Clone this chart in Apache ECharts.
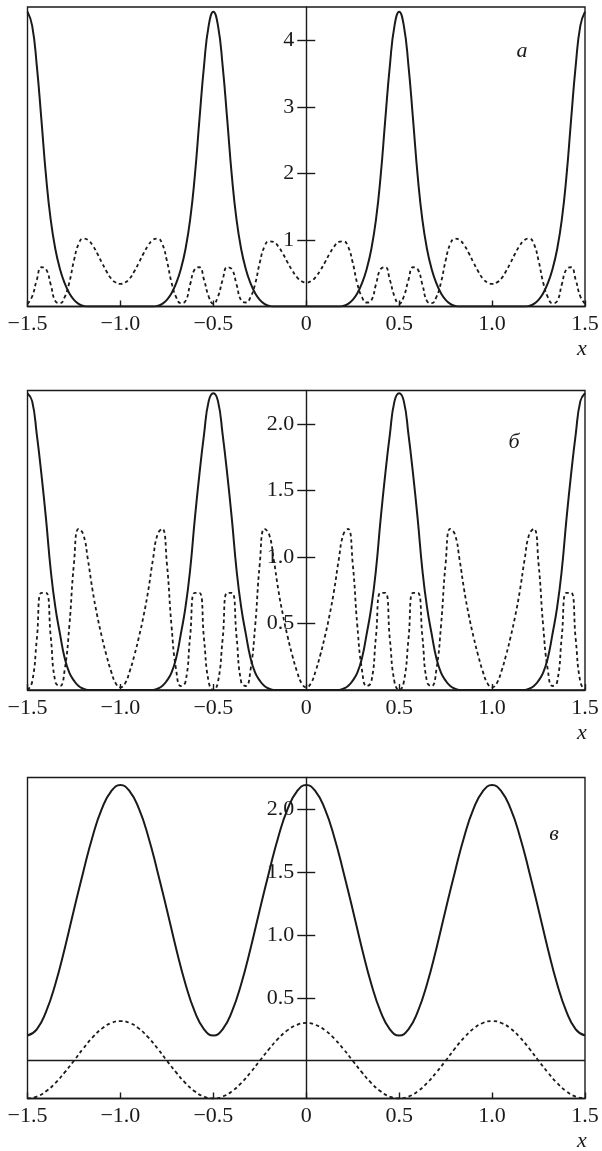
<!DOCTYPE html>
<html><head><meta charset="utf-8">
<script src="https://cdn.jsdelivr.net/npm/echarts@6/dist/echarts.min.js"></script>
<style>html,body{margin:0;padding:0;background:#fff}#c{width:602px;height:1151px}</style>
</head><body><div id="c"></div>
<script>
// sample positions (x)
const xFine = [-1.5,-1.475,-1.45,-1.425,-1.4,-1.375,-1.35,-1.325,-1.3,-1.275,-1.25,-1.225,-1.2,-1.175,-1.15,-1.125,-1.1,-1.075,-1.05,-1.025,
-1,-0.975,-0.95,-0.925,-0.9,-0.875,-0.85,-0.825,-0.8,-0.775,-0.75,-0.725,-0.7,-0.675,-0.65,-0.625,-0.6,-0.575,-0.55,-0.525,
-0.5,-0.475,-0.45,-0.425,-0.4,-0.375,-0.35,-0.325,-0.3,-0.275,-0.25,-0.225,-0.2,-0.175,-0.15,-0.125,-0.1,-0.075,-0.05,-0.025,
0,0.025,0.05,0.075,0.1,0.125,0.15,0.175,0.2,0.225,0.25,0.275,0.3,0.325,0.35,0.375,0.4,0.425,0.45,0.475,
0.5,0.525,0.55,0.575,0.6,0.625,0.65,0.675,0.7,0.725,0.75,0.775,0.8,0.825,0.85,0.875,0.9,0.925,0.95,0.975,
1,1.025,1.05,1.075,1.1,1.125,1.15,1.175,1.2,1.225,1.25,1.275,1.3,1.325,1.35,1.375,1.4,1.425,1.45,1.475,1.5];
const xCoarse = [-1.5,-1.45,-1.4,-1.35,-1.3,-1.25,-1.2,-1.15,-1.1,-1.05,-1,-0.95,-0.9,-0.85,-0.8,-0.75,-0.7,-0.65,-0.6,-0.55,
-0.5,-0.45,-0.4,-0.35,-0.3,-0.25,-0.2,-0.15,-0.1,-0.05,0,0.05,0.1,0.15,0.2,0.25,0.3,0.35,0.4,0.45,
0.5,0.55,0.6,0.65,0.7,0.75,0.8,0.85,0.9,0.95,1,1.05,1.1,1.15,1.2,1.25,1.3,1.35,1.4,1.45,1.5];

// panel a
const solidA = [4.43,4.22,3.62,2.80,1.95,1.30,0.86,0.56,0.35,0.20,0.10,0.04,0.01,0,0,0,0,0,0,0,0,
0,0,0,0,0,0,0,0.01,0.04,0.10,0.20,0.35,0.56,0.86,1.30,1.95,2.80,3.62,4.22,4.43,
4.22,3.62,2.80,1.95,1.30,0.86,0.56,0.35,0.20,0.10,0.04,0.01,0,0,0,0,0,0,0,0,
0,0,0,0,0,0,0,0.01,0.04,0.10,0.20,0.35,0.56,0.86,1.30,1.95,2.80,3.62,4.22,4.43,
4.22,3.62,2.80,1.95,1.30,0.86,0.56,0.35,0.20,0.10,0.04,0.01,0,0,0,0,0,0,0,0,
0,0,0,0,0,0,0,0.01,0.04,0.10,0.20,0.35,0.56,0.86,1.30,1.95,2.80,3.62,4.22,4.43];
const dashedA = [0.04,0.15,0.40,0.59,0.56,0.33,0.08,0.05,0.14,0.36,0.69,0.94,1.02,1.00,0.92,0.80,0.66,0.53,0.42,0.36,0.34,
0.36,0.42,0.53,0.66,0.80,0.92,1.00,1.02,0.94,0.69,0.36,0.14,0.05,0.08,0.33,0.56,0.59,0.40,0.15,0.04,
0.15,0.40,0.59,0.56,0.33,0.09,0.06,0.14,0.34,0.66,0.90,0.98,0.97,0.90,0.79,0.66,0.54,0.44,0.38,0.36,
0.38,0.44,0.54,0.66,0.79,0.90,0.97,0.98,0.90,0.66,0.34,0.14,0.06,0.09,0.33,0.56,0.59,0.40,0.15,0.04,
0.15,0.40,0.59,0.56,0.33,0.08,0.05,0.14,0.36,0.69,0.94,1.02,1.00,0.92,0.80,0.66,0.53,0.42,0.36,0.34,
0.36,0.42,0.53,0.66,0.80,0.92,1.00,1.02,0.94,0.69,0.36,0.14,0.05,0.08,0.33,0.56,0.59,0.40,0.15,0.04];

// panel б
const solidB = [2.23,2.17,1.92,1.62,1.28,0.90,0.62,0.42,0.24,0.13,0.07,0.03,0.01,0,0,0,0,0,0,0,0,
0,0,0,0,0,0,0,0.01,0.03,0.07,0.13,0.24,0.42,0.62,0.90,1.28,1.62,1.92,2.17,2.23,
2.17,1.92,1.62,1.28,0.90,0.62,0.42,0.24,0.13,0.07,0.03,0.01,0,0,0,0,0,0,0,0,
0,0,0,0,0,0,0,0.01,0.03,0.07,0.13,0.24,0.42,0.62,0.90,1.28,1.62,1.92,2.17,2.23,
2.17,1.92,1.62,1.28,0.90,0.62,0.42,0.24,0.13,0.07,0.03,0.01,0,0,0,0,0,0,0,0,
0,0,0,0,0,0,0,0.01,0.03,0.07,0.13,0.24,0.42,0.62,0.90,1.28,1.62,1.92,2.17,2.23];
const dashedB = [0.00,0.06,0.38,0.73,0.73,0.40,0.06,0.03,0.15,0.48,0.95,1.21,1.17,0.98,0.75,0.56,0.40,0.26,0.14,0.05,0.02,
0.05,0.14,0.26,0.40,0.56,0.75,0.98,1.17,1.21,0.95,0.48,0.15,0.03,0.06,0.40,0.73,0.73,0.38,0.06,0.00,
0.06,0.38,0.73,0.73,0.40,0.06,0.03,0.15,0.48,0.95,1.21,1.17,0.98,0.75,0.56,0.40,0.26,0.14,0.05,0.02,
0.05,0.14,0.26,0.40,0.56,0.75,0.98,1.17,1.21,0.95,0.48,0.15,0.03,0.06,0.40,0.73,0.73,0.38,0.06,0.00,
0.06,0.38,0.73,0.73,0.40,0.06,0.03,0.15,0.48,0.95,1.21,1.17,0.98,0.75,0.56,0.40,0.26,0.14,0.05,0.02,
0.05,0.14,0.26,0.40,0.56,0.75,0.98,1.17,1.21,0.95,0.48,0.15,0.03,0.06,0.40,0.73,0.73,0.38,0.06,0.00];

// panel в
const solidC = [0.20,0.25,0.39,0.61,0.89,1.20,1.50,1.78,2.00,2.14,2.19,
2.14,2.00,1.78,1.50,1.20,0.89,0.61,0.39,0.25,0.20,
0.25,0.39,0.61,0.89,1.20,1.50,1.78,2.00,2.14,2.19,
2.14,2.00,1.78,1.50,1.20,0.89,0.61,0.39,0.25,0.20,
0.25,0.39,0.61,0.89,1.20,1.50,1.78,2.00,2.14,2.19,
2.14,2.00,1.78,1.50,1.20,0.89,0.61,0.39,0.25,0.20];
const dashedC = [-0.30,-0.285,-0.243,-0.177,-0.093,0.00,0.097,0.185,0.255,0.30,0.315,
0.30,0.255,0.185,0.097,0.00,-0.093,-0.177,-0.243,-0.285,-0.30,
-0.285,-0.243,-0.177,-0.093,0.00,0.093,0.177,0.243,0.285,0.30,
0.285,0.243,0.177,0.093,0.00,-0.093,-0.177,-0.243,-0.285,-0.30,
-0.285,-0.243,-0.177,-0.093,0.00,0.097,0.185,0.255,0.30,0.315,
0.30,0.255,0.185,0.097,0.00,-0.093,-0.177,-0.243,-0.285,-0.30];

// tick labels
const xTickValues = [-1.5,-1,-0.5,0,0.5,1,1.5];
const yTicksA = [1,2,3,4];
const yTicksB = [0.5,1,1.5,2];
const yTicksC = [0.5,1,1.5,2];
const panelLetters = ['a','б','в'];
const axisName = 'x';

const FONT = 'Liberation Serif';
const INK = '#1a1a1a';
const GRID_LEFT = 27.5, GRID_RIGHT = 17, W = 602;
const plotW = W - GRID_LEFT - GRID_RIGHT;
const zeroPx = GRID_LEFT + plotW * (0 - (-1.5)) / 3;   // where x = 0 sits
const offLeft = -(zeroPx - GRID_LEFT);
const offRight = -(W - GRID_RIGHT - zeroPx);

const panels = [
  {top:7, height:299.5, ymin:0, ymax:4.5, yTicks:yTicksA, digits:0, xs:xFine, solid:solidA, dashed:dashedA, letterPos:[522,51], zeroLine:false},
  {top:390.5, height:299.5, ymin:0, ymax:2.25, yTicks:yTicksB, digits:1, xs:xFine, solid:solidB, dashed:dashedB, letterPos:[514,442], zeroLine:false},
  {top:777.5, height:321, ymin:-0.3, ymax:2.25, yTicks:yTicksC, digits:1, xs:xCoarse, solid:solidC, dashed:dashedC, letterPos:[554,834], zeroLine:true}
];

function fmtX(v){ if (Math.abs(v) < 1e-9) return '0'; return (v<0?'\u2212':'') + Math.abs(v).toFixed(1); }

const grids=[], xAxes=[], yAxes=[], series=[], graphics=[];
panels.forEach((p,g)=>{
  grids.push({left:GRID_LEFT, right:GRID_RIGHT, top:p.top, height:p.height, show:true, borderColor:INK, borderWidth:1.4,
    backgroundColor:'transparent', containLabel:false, outerBoundsMode:'none'});
  xAxes.push({type:'value', gridIndex:g, min:-1.5, max:1.5, interval:0.5,
    axisLine:{show:true, onZero:false, lineStyle:{color:INK, width:1.4}},
    axisTick:{show:true, inside:true, length:6, customValues:xTickValues, lineStyle:{color:INK, width:1.4}},
    axisLabel:{show:true, margin:7, fontFamily:FONT, fontSize:22, color:INK, customValues:xTickValues, formatter:fmtX},
    splitLine:{show:false}});
  const fy = v => p.digits ? v.toFixed(1) : String(Math.round(v));
  yAxes.push({type:'value', gridIndex:g, min:p.ymin, max:p.ymax, position:'left', offset:offLeft,
    axisLine:{show:true, onZero:false, lineStyle:{color:INK, width:1.4}},
    axisTick:{show:true, length:9, customValues:p.yTicks, lineStyle:{color:INK, width:1.4}},
    axisLabel:{show:true, margin:12, fontFamily:FONT, fontSize:22, color:INK, customValues:p.yTicks, formatter:fy},
    splitLine:{show:false}});
  yAxes.push({type:'value', gridIndex:g, min:p.ymin, max:p.ymax, position:'right', offset:offRight,
    axisLine:{show:false, onZero:false},
    axisTick:{show:true, length:9, customValues:p.yTicks, lineStyle:{color:INK, width:1.4}},
    axisLabel:{show:false}, splitLine:{show:false}});
  const solidSeries = {type:'line', xAxisIndex:g, yAxisIndex:2*g, data:p.xs.map((x,i)=>[x,p.solid[i]]),
    showSymbol:false, symbol:'none', smooth:0.5, silent:true, z:4,
    lineStyle:{color:INK, width:2}};
  if (p.zeroLine) {
    solidSeries.markLine = {silent:true, symbol:'none', animation:false, label:{show:false},
      lineStyle:{color:INK, width:1.4, type:'solid'}, data:[{yAxis:0}]};
  }
  series.push(solidSeries);
  series.push({type:'line', xAxisIndex:g, yAxisIndex:2*g, data:p.xs.map((x,i)=>[x,p.dashed[i]]),
    showSymbol:false, symbol:'none', smooth:0.5, silent:true, z:3,
    lineStyle:{color:INK, width:1.8, type:[3.5,3]}});
  const axisBottom = p.top + p.height;
  graphics.push({type:'text', x:582, y:axisBottom+43, silent:true,
    style:{text:axisName, font:'italic 22px "Liberation Serif"', fill:INK, align:'center', verticalAlign:'middle', textAlign:'center', textVerticalAlign:'middle'}});
  graphics.push({type:'text', x:p.letterPos[0], y:p.letterPos[1], silent:true,
    style:{text:panelLetters[g], font:'italic 22px "Liberation Serif"', fill:INK, align:'center', verticalAlign:'middle', textAlign:'center', textVerticalAlign:'middle'}});
});

const chart = echarts.init(document.getElementById('c'), null, {renderer:'canvas'});
chart.setOption({
  animation:false,
  backgroundColor:'#fff',
  grid:grids, xAxis:xAxes, yAxis:yAxes, series:series, graphic:graphics
});
</script>
</body></html>
